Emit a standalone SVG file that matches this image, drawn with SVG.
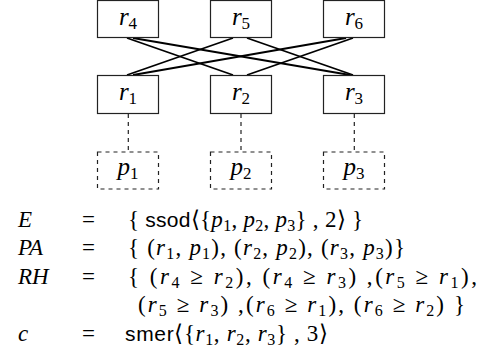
<svg xmlns="http://www.w3.org/2000/svg" width="482" height="352" viewBox="0 0 482 352">
<style>
.box{fill:#fff;stroke:#222;stroke-width:1.2}
.dbox{fill:#fff;stroke:#222;stroke-width:1.2;stroke-dasharray:4 4}
.edge{stroke:#000;stroke-width:1.8;fill:none}
.dash{stroke:#222;stroke-width:1.2;stroke-dasharray:4 4;fill:none}
.i{font-family:serif;font-style:italic}
.sf{font-family:'Liberation Sans',sans-serif;font-size:21px}
</style>
<g id="connectors">
<line class="edge" x1="127" y1="38" x2="233" y2="75"/>
<line class="edge" x1="133" y1="38" x2="350" y2="75"/>
<line class="edge" x1="233" y1="38" x2="127" y2="75"/>
<line class="edge" x1="247" y1="38" x2="353" y2="75"/>
<line class="edge" x1="346" y1="38" x2="133" y2="75"/>
<line class="edge" x1="353" y1="38" x2="247" y2="75"/>
<line class="dash" x1="128.3" y1="114" x2="128.3" y2="152"/>
<line class="dash" x1="241" y1="114" x2="241" y2="152"/>
<line class="dash" x1="354.3" y1="114" x2="354.3" y2="152"/>
</g>
<g font-family="Liberation Serif, serif" font-size="25" text-anchor="middle">
<g id="r4"><rect class="box" x="97.5" y="0.5" width="61" height="37"/><text x="128" y="25"><tspan class="i">r</tspan><tspan font-size="17" dy="4">4</tspan></text></g>
<g id="r5"><rect class="box" x="210.5" y="0.5" width="61" height="37"/><text x="241" y="25"><tspan class="i">r</tspan><tspan font-size="17" dy="4">5</tspan></text></g>
<g id="r6"><rect class="box" x="323.5" y="0.5" width="61" height="37"/><text x="354" y="25"><tspan class="i">r</tspan><tspan font-size="17" dy="4">6</tspan></text></g>
<g id="r1"><rect class="box" x="97.5" y="75.5" width="61" height="38"/><text x="128" y="100"><tspan class="i">r</tspan><tspan font-size="17" dy="4">1</tspan></text></g>
<g id="r2"><rect class="box" x="210.5" y="75.5" width="61" height="38"/><text x="241" y="100"><tspan class="i">r</tspan><tspan font-size="17" dy="4">2</tspan></text></g>
<g id="r3"><rect class="box" x="323.5" y="75.5" width="61" height="38"/><text x="354" y="100"><tspan class="i">r</tspan><tspan font-size="17" dy="4">3</tspan></text></g>
<g id="p1"><rect class="dbox" x="97.5" y="152" width="61" height="37"/><text x="128" y="175"><tspan class="i">p</tspan><tspan font-size="17" dy="4">1</tspan></text></g>
<g id="p2"><rect class="dbox" x="210.5" y="152" width="61" height="37"/><text x="241" y="175"><tspan class="i">p</tspan><tspan font-size="17" dy="4">2</tspan></text></g>
<g id="p3"><rect class="dbox" x="323.5" y="152" width="61" height="37"/><text x="354" y="175"><tspan class="i">p</tspan><tspan font-size="17" dy="4">3</tspan></text></g>
</g>
<g id="definitions" font-family="Liberation Serif, serif" font-size="23">
<text class="i" x="18" y="226.5">E</text>
<text x="82" y="226.5">=</text>
<text x="128" y="226.5" textLength="235" lengthAdjust="spacing">{ <tspan class="sf">ssod</tspan>⟨{<tspan class="i">p</tspan><tspan font-size="16" dy="4">1</tspan><tspan dy="-4">, </tspan><tspan class="i">p</tspan><tspan font-size="16" dy="4">2</tspan><tspan dy="-4">, </tspan><tspan class="i">p</tspan><tspan font-size="16" dy="4">3</tspan><tspan dy="-4">} , 2⟩ }</tspan></text>
<text class="i" x="18" y="255">PA</text>
<text x="82" y="255">=</text>
<text x="128" y="255" textLength="277" lengthAdjust="spacing">{ (<tspan class="i">r</tspan><tspan font-size="16" dy="4">1</tspan><tspan dy="-4">, </tspan><tspan class="i">p</tspan><tspan font-size="16" dy="4">1</tspan><tspan dy="-4">), (</tspan><tspan class="i">r</tspan><tspan font-size="16" dy="4">2</tspan><tspan dy="-4">, </tspan><tspan class="i">p</tspan><tspan font-size="16" dy="4">2</tspan><tspan dy="-4">), (</tspan><tspan class="i">r</tspan><tspan font-size="16" dy="4">3</tspan><tspan dy="-4">, </tspan><tspan class="i">p</tspan><tspan font-size="16" dy="4">3</tspan><tspan dy="-4">)}</tspan></text>
<text class="i" x="18" y="283.5">RH</text>
<text x="82" y="283.5">=</text>
<text x="128" y="283.5" textLength="349" lengthAdjust="spacing">{ (<tspan class="i">r</tspan><tspan font-size="16" dy="4">4</tspan><tspan dy="-4"> ≥ </tspan><tspan class="i">r</tspan><tspan font-size="16" dy="4">2</tspan><tspan dy="-4">), (</tspan><tspan class="i">r</tspan><tspan font-size="16" dy="4">4</tspan><tspan dy="-4"> ≥ </tspan><tspan class="i">r</tspan><tspan font-size="16" dy="4">3</tspan><tspan dy="-4">) ,(</tspan><tspan class="i">r</tspan><tspan font-size="16" dy="4">5</tspan><tspan dy="-4"> ≥ </tspan><tspan class="i">r</tspan><tspan font-size="16" dy="4">1</tspan><tspan dy="-4">),</tspan></text>
<text x="138" y="312" textLength="327" lengthAdjust="spacing">(<tspan class="i">r</tspan><tspan font-size="16" dy="4">5</tspan><tspan dy="-4"> ≥ </tspan><tspan class="i">r</tspan><tspan font-size="16" dy="4">3</tspan><tspan dy="-4">) ,(</tspan><tspan class="i">r</tspan><tspan font-size="16" dy="4">6</tspan><tspan dy="-4"> ≥ </tspan><tspan class="i">r</tspan><tspan font-size="16" dy="4">1</tspan><tspan dy="-4">), (</tspan><tspan class="i">r</tspan><tspan font-size="16" dy="4">6</tspan><tspan dy="-4"> ≥ </tspan><tspan class="i">r</tspan><tspan font-size="16" dy="4">2</tspan><tspan dy="-4">) }</tspan></text>
<text class="i" x="18" y="340.5">c</text>
<text x="82" y="340.5">=</text>
<text x="125" y="340.5" textLength="203" lengthAdjust="spacing"><tspan class="sf">smer</tspan>⟨{<tspan class="i">r</tspan><tspan font-size="16" dy="4">1</tspan><tspan dy="-4">, </tspan><tspan class="i">r</tspan><tspan font-size="16" dy="4">2</tspan><tspan dy="-4">, </tspan><tspan class="i">r</tspan><tspan font-size="16" dy="4">3</tspan><tspan dy="-4">} , 3⟩</tspan></text>
</g>
</svg>
